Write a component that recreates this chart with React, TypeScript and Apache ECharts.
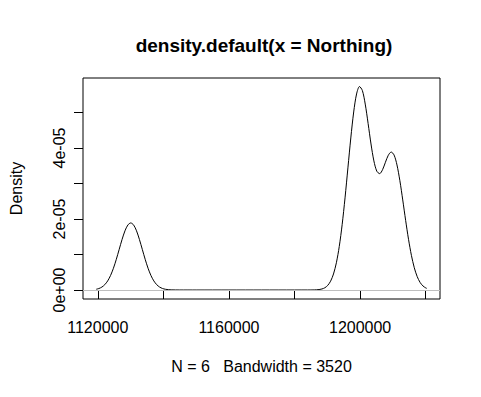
import React, { useEffect, useRef } from "react";
import * as echarts from "echarts";

const TITLE = "density.default(x = Northing)";
const X_LABEL = "N = 6   Bandwidth = 3520";
const Y_LABEL = "Density";

const X_TICKS = [1120000, 1140000, 1160000, 1180000, 1200000, 1220000];
const X_TICK_LABELS = [1120000, 1160000, 1200000];
const Y_TICKS = [0, 1e-5, 2e-5, 3e-5, 4e-5, 5e-5];
const Y_TICK_LABELS = [0, 2e-5, 4e-5];

const X_MIN = 1115489;
const X_MAX = 1224361;
const Y_MIN = -0.2535e-5;
const Y_MAX = 5.972e-5;

const NORTHING = [
  1119520, 1120370, 1121250, 1122130, 1123010, 1123890, 1124770, 1125650,
  1126530, 1127410, 1128290, 1129170, 1130050, 1130930, 1131810, 1132690,
  1133570, 1134450, 1135330, 1136210, 1137090, 1137970, 1138850, 1139730,
  1140610, 1141490, 1142370, 1145000, 1150000, 1160000, 1170000, 1180000,
  1184000, 1186000, 1187480, 1188360, 1189240, 1190120, 1191000, 1191880,
  1192760, 1193640, 1194520, 1195400, 1196280, 1197160, 1198040, 1198920,
  1199800, 1200680, 1201560, 1202440, 1203320, 1204200, 1205080, 1205960,
  1206840, 1207720, 1208600, 1209480, 1210360, 1211240, 1212120, 1213000,
  1213880, 1214760, 1215640, 1216520, 1217400, 1218280, 1219160, 1220040,
  1220328,
];

const DENSITY = [
  0.021e-5, 0.0431e-5, 0.0829e-5, 0.1504e-5, 0.2556e-5, 0.4086e-5, 0.613e-5, 0.8648e-5,
  1.146e-5, 1.4258e-5, 1.667e-5, 1.8308e-5, 1.889e-5, 1.8308e-5, 1.667e-5, 1.4258e-5,
  1.146e-5, 0.8648e-5, 0.613e-5, 0.4086e-5, 0.2556e-5, 0.1504e-5, 0.0829e-5, 0.0431e-5,
  0.021e-5, 0.0096e-5, 0.0041e-5, 0.0003e-5, 0, 0, 0, 0,
  0.0004e-5, 0.0026e-5, 0.0125e-5, 0.0288e-5, 0.0629e-5, 0.129e-5, 0.249e-5, 0.451e-5,
  0.767e-5, 1.226e-5, 1.84e-5, 2.595e-5, 3.44e-5, 4.283e-5, 5.015e-5, 5.523e-5,
  5.731e-5, 5.62e-5, 5.237e-5, 4.689e-5, 4.113e-5, 3.636e-5, 3.349e-5, 3.278e-5,
  3.388e-5, 3.598e-5, 3.797e-5, 3.886e-5, 3.801e-5, 3.523e-5, 3.081e-5, 2.537e-5,
  1.963e-5, 1.428e-5, 0.977e-5, 0.627e-5, 0.3786e-5, 0.2146e-5, 0.1143e-5, 0.0572e-5,
  0.045e-5,
];

const FONT = "'Liberation Sans', Arial, sans-serif";

function fmtExp(v: number): string {
  if (v === 0) return "0e+00";
  const s = v.toExponential(0);
  const [m, e] = s.split("e");
  const sign = e[0] === "-" ? "-" : "+";
  const digits = e.replace(/[-+]/, "").padStart(2, "0");
  return `${m}e${sign}${digits}`;
}

export default function App() {
  const ref = useRef<HTMLDivElement>(null);

  useEffect(() => {
    if (!ref.current) return;
    const chart = echarts.init(ref.current, undefined, { renderer: "svg" });
    const data = NORTHING.map((x, i) => [x, DENSITY[i]]);
    chart.setOption({
      animation: false,
      backgroundColor: "#ffffff",
      title: {
        text: TITLE,
        left: 259,
        textAlign: "center",
        top: 31,
        textStyle: { fontFamily: FONT, fontSize: 19, fontWeight: "bold", color: "#000" },
      },
      grid: {
        left: 78,
        right: 41,
        top: 78,
        bottom: 98,
        show: true,
        borderColor: "#000",
        borderWidth: 1,
        backgroundColor: "transparent",
      },
      xAxis: {
        type: "value",
        min: X_MIN,
        max: X_MAX,
        name: X_LABEL,
        nameLocation: "middle",
        nameGap: 59,
        nameTextStyle: { fontFamily: FONT, fontSize: 16, color: "#000" },
        axisLine: { show: false },
        splitLine: { show: false },
        axisTick: {
          show: true,
          length: 9,
          customValues: X_TICKS,
          lineStyle: { color: "#000", width: 1 },
        },
        axisLabel: {
          customValues: X_TICK_LABELS,
          margin: 20,
          fontFamily: FONT,
          fontSize: 16,
          color: "#000",
          formatter: (v: number) => String(v),
        },
      },
      yAxis: {
        type: "value",
        min: Y_MIN,
        max: Y_MAX,
        name: Y_LABEL,
        nameLocation: "middle",
        nameRotate: 90,
        nameGap: 59,
        nameTextStyle: { fontFamily: FONT, fontSize: 16, color: "#000" },
        axisLine: { show: false },
        splitLine: { show: false },
        axisTick: {
          show: true,
          length: 9,
          customValues: Y_TICKS,
          lineStyle: { color: "#000", width: 1 },
        },
        axisLabel: {
          customValues: Y_TICK_LABELS,
          rotate: 90,
          margin: 16,
          fontFamily: FONT,
          fontSize: 16,
          color: "#000",
          formatter: (v: number) => fmtExp(v),
        },
      },
      series: [
        {
          type: "line",
          data,
          showSymbol: false,
          symbol: "none",
          smooth: 0.3,
          lineStyle: { color: "#000", width: 1 },
          markLine: {
            silent: true,
            symbol: "none",
            label: { show: false },
            lineStyle: { color: "#BEBEBE", width: 1, type: "solid" },
            data: [{ yAxis: 0 }],
          },
          z: 3,
        },
      ],
    });
    return () => chart.dispose();
  }, []);

  return (
    <div
      ref={ref}
      style={{ position: "fixed", left: 0, top: 0, width: 481, height: 397, background: "#fff" }}
    />
  );
}
